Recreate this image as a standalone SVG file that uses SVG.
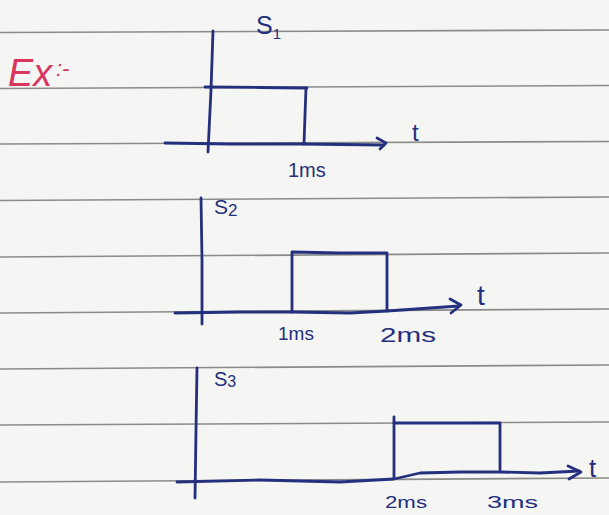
<svg xmlns="http://www.w3.org/2000/svg" width="609" height="515" viewBox="0 0 609 515">
  <style>
    .rule { stroke: #8a8a88; stroke-width: 1.6; fill: none; }
    .ink { stroke: #24307e; stroke-width: 2.8; fill: none; stroke-linecap: round; stroke-linejoin: round; }
    .lbl { font-family: "Liberation Sans", "DejaVu Sans", sans-serif; fill: #24307e; }
    .red { font-family: "Liberation Sans", "DejaVu Sans", sans-serif; fill: #d8365e; font-style: italic; }
  </style>

  <!-- paper -->
  <rect x="0" y="0" width="609" height="515" fill="#f5f5f3"/>

  <!-- ruled notebook lines -->
  <g id="ruling">
    <line class="rule" x1="0" y1="32.5" x2="609" y2="30"/>
    <line class="rule" x1="0" y1="88.5" x2="609" y2="85.5"/>
    <line class="rule" x1="0" y1="144" x2="609" y2="141.5"/>
    <line class="rule" x1="0" y1="200.5" x2="609" y2="197"/>
    <line class="rule" x1="0" y1="257" x2="609" y2="253"/>
    <line class="rule" x1="0" y1="313" x2="609" y2="309"/>
    <line class="rule" x1="0" y1="369" x2="609" y2="365"/>
    <line class="rule" x1="0" y1="425" x2="609" y2="422"/>
    <line class="rule" x1="0" y1="482" x2="609" y2="478"/>
  </g>

  <!-- heading -->
  <g id="heading">
    <text class="red" x="8" y="86" font-size="38" textLength="44" lengthAdjust="spacingAndGlyphs">Ex</text>
    <text class="red" x="56" y="76" font-size="22">:-</text>
  </g>

  <!-- s1: pulse from 0 to 1ms -->
  <g id="plot-s1">
    <path class="ink" d="M213,31 L211,90 L208,152"/>
    <path class="ink" d="M165,143 L230,144 L300,144 L384,145"/>
    <path class="ink" d="M377,138 L386,143 L380,149"/>
    <path class="ink" d="M205,87 L260,87.5 L307,88"/>
    <path class="ink" d="M306,88 L305,115 L304,144"/>
    <text class="lbl" x="256" y="34" font-size="25">S<tspan font-size="15" dy="5">1</tspan></text>
    <text class="lbl" x="412" y="141" font-size="24">t</text>
    <text class="lbl" x="288" y="177" font-size="20">1ms</text>
  </g>

  <!-- s2: pulse from 1ms to 2ms -->
  <g id="plot-s2">
    <path class="ink" d="M201,198 L202,260 L202,324"/>
    <path class="ink" d="M175,313 L240,312 L292,312 L350,313 L387,311 L459,306"/>
    <path class="ink" d="M450,299 L461,305 L451,313"/>
    <path class="ink" d="M292,312 L292,252 L340,253 L387,253 L387,311"/>
    <text class="lbl" x="214" y="214" font-size="21">S<tspan font-size="17" dy="2">2</tspan></text>
    <text class="lbl" x="477" y="305" font-size="28">t</text>
    <text class="lbl" x="278" y="340" font-size="19">1ms</text>
    <text class="lbl" x="380" y="342" font-size="20" textLength="56" lengthAdjust="spacingAndGlyphs">2ms</text>
  </g>

  <!-- s3: pulse from 2ms to 3ms -->
  <g id="plot-s3">
    <path class="ink" d="M197,368 L196,430 L195,498"/>
    <path class="ink" d="M177,482 L260,480 L340,482 L394,479 L420,473 L460,472 L500,472 L540,473 L579,471"/>
    <path class="ink" d="M568,466 L581,472 L569,479"/>
    <path class="ink" d="M394,478 L394,417"/>
    <path class="ink" d="M394,423 L450,423 L500,423 L500,470"/>
    <text class="lbl" x="214" y="386" font-size="20">S<tspan font-size="16" dy="1">3</tspan></text>
    <text class="lbl" x="589" y="477" font-size="26">t</text>
    <text class="lbl" x="385" y="508" font-size="16" textLength="42" lengthAdjust="spacingAndGlyphs">2ms</text>
    <text class="lbl" x="487" y="508" font-size="16" textLength="51" lengthAdjust="spacingAndGlyphs">3ms</text>
  </g>
</svg>
